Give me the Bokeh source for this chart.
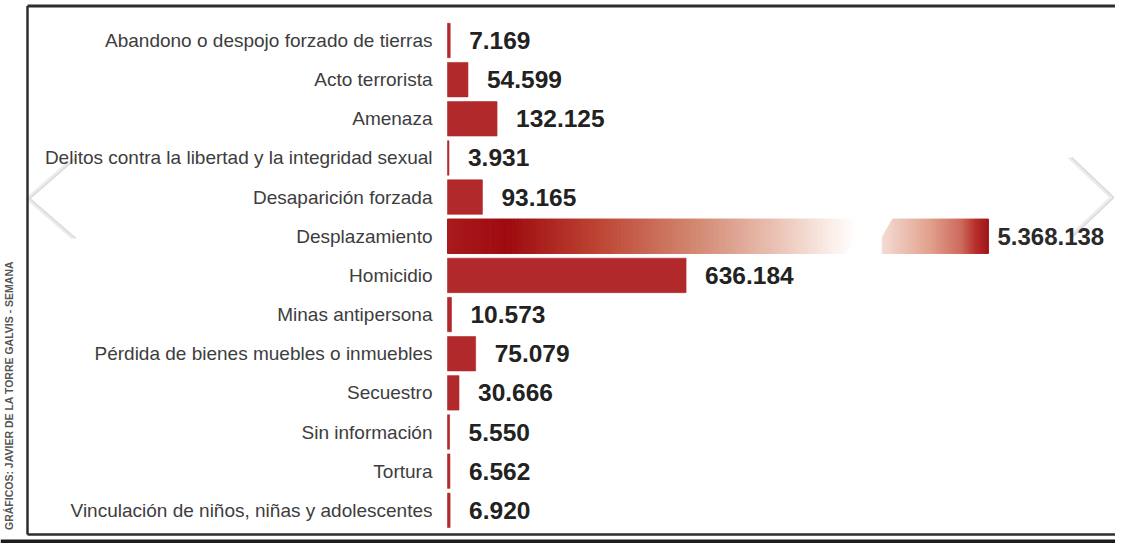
import math
from bokeh.plotting import figure
from bokeh.models import Range1d, ColumnDataSource
from bokeh.core.properties import value
from bokeh.embed import file_html
from bokeh.resources import INLINE

# ---------------- data ----------------
categories = [
    "Abandono o despojo forzado de tierras",
    "Acto terrorista",
    "Amenaza",
    "Delitos contra la libertad y la integridad sexual",
    "Desaparición forzada",
    "Desplazamiento",
    "Homicidio",
    "Minas antipersona",
    "Pérdida de bienes muebles o inmuebles",
    "Secuestro",
    "Sin información",
    "Tortura",
    "Vinculación de niños, niñas y adolescentes",
]
victims = [7169, 54599, 132125, 3931, 93165, 5368138, 636184,
           10573, 75079, 30666, 5550, 6562, 6920]
credit = "GRÁFICOS: JAVIER DE LA TORRE GALVIS - SEMANA"

# axis break used for the one very long bar (Desplazamiento)
BREAK_LO = 1_090_000
BREAK_HI = 5_085_000

# ---------------- layout / style ----------------
W, H = 1115, 543
K = 3.75e-4           # pixels per victim
X0 = 447              # pixel where value 0 sits
ROW0, ROWH = 40, 39.15
BAR_H = 0.88
GAP_PX, SLANT_PX = 26, 11
BAR_COLOR = "#b2292c"

x_start = -X0 / K
x_end = (W - X0) / K
gap_units = GAP_PX / K


def X(px):
    return x_start + px / K


def Y(py):
    return (py - ROW0) / ROWH


def shown(v):
    if v <= BREAK_LO:
        return v
    return BREAK_LO + gap_units + (v - BREAK_HI)


def fmt(v):
    return f"{v:,}".replace(",", ".")


def hex2rgb(h):
    h = h.lstrip("#")
    return tuple(int(h[i:i + 2], 16) for i in (0, 2, 4))


def grad(stops, t):
    for (t0, c0), (t1, c1) in zip(stops, stops[1:]):
        if t0 <= t <= t1:
            f = 0 if t1 == t0 else (t - t0) / (t1 - t0)
            a, b = hex2rgb(c0), hex2rgb(c1)
            return "#%02x%02x%02x" % tuple(round(a[j] + (b[j] - a[j]) * f) for j in range(3))
    return stops[-1][1]


LEFT_STOPS = [(0.0, "#a81a1c"), (0.15, "#9e0b10"), (0.36, "#bc4232"),
              (0.60, "#d2866f"), (0.80, "#e9c0b2"), (0.94, "#fbeee9"), (1.0, "#ffffff")]
RIGHT_STOPS = [(0.0, "#f4dcd3"), (0.45, "#e2a18e"), (0.75, "#cd6a5d"),
               (0.88, "#b8302e"), (1.0, "#a0161a")]

p = figure(width=W, height=H, output_backend="svg", toolbar_location=None,
           x_range=Range1d(x_start, x_end), y_range=Range1d(Y(H), Y(0)),
           min_border=0)
p.axis.visible = False
p.grid.visible = False
p.outline_line_color = None
p.background_fill_color = "white"
p.border_fill_color = "white"

# carousel chevrons (behind everything)
for dx, c in ((0, "#ececec"), (3, "#dddddd")):
    p.line([X(72 + dx), X(26 + dx), X(72 + dx)], [Y(158), Y(198), Y(238)],
           line_color=c, line_width=2)
    p.line([X(1068 + dx), X(1110 + dx), X(1068 + dx)], [Y(157), Y(197), Y(237)],
           line_color=c, line_width=2)

rows = list(range(len(categories)))
big = [i for i, v in enumerate(victims) if v > BREAK_LO]
normal = [i for i, v in enumerate(victims) if v <= BREAK_LO]

# normal bars
src = ColumnDataSource(dict(y=[rows[i] for i in normal],
                            right=[victims[i] for i in normal]))
p.hbar(y="y", left=0, right="right", height=BAR_H, source=src,
       fill_color=BAR_COLOR, line_color=BAR_COLOR, line_width=0.6)

# broken gradient bar(s)
N = 120
for i in big:
    v = victims[i]
    lefts, rights, cols = [], [], []
    for s in range(N):
        lefts.append(BREAK_LO * s / N)
        rights.append(BREAK_LO * (s + 1) / N)
        cols.append(grad(LEFT_STOPS, (s + 0.5) / N))
    r0, r1 = shown(BREAK_HI), shown(v)
    for s in range(N):
        lefts.append(r0 + (r1 - r0) * s / N)
        rights.append(r0 + (r1 - r0) * (s + 1) / N)
        cols.append(grad(RIGHT_STOPS, (s + 0.5) / N))
    p.hbar(y=[rows[i]] * len(lefts), left=lefts, right=rights, height=BAR_H,
           fill_color=cols, line_color=cols, line_width=1)
    sl = SLANT_PX / K
    top, bot = rows[i] - BAR_H / 2 - 0.05, rows[i] + BAR_H / 2 + 0.05
    p.patch([BREAK_LO - sl, r0 - sl, r0 + sl, BREAK_LO + sl],
            [bot, bot, top, top], fill_color="white", line_color=None)

# value labels
nsrc = ColumnDataSource(dict(x=[victims[i] for i in normal],
                             y=[rows[i] for i in normal],
                             t=[fmt(victims[i]) for i in normal]))
p.text(x="x", y="y", text="t", source=nsrc, x_offset=19,
       text_font=value("Liberation Sans"), text_font_style="bold",
       text_font_size="24.5px", text_color="#222222",
       text_align="left", text_baseline="middle")
for i in big:
    p.text(x=[shown(victims[i])], y=[rows[i]], text=[fmt(victims[i])], x_offset=9,
           text_font=value("Liberation Sans"), text_font_style="bold",
           text_font_size="24px", text_color="#2a2a2a",
           text_align="left", text_baseline="middle")

# category labels
p.text(x=[0] * len(rows), y=rows, text=categories, x_offset=-15,
       text_font=value("Liberation Sans"), text_font_size="19px",
       text_color="#3d3d3d", text_align="right", text_baseline="middle")

# frame decorations
dark = "#2e2e2e"
p.line([X(27), X(W)], [Y(5.5), Y(5.5)], line_color=dark, line_width=3)
p.line([X(27), X(27)], [Y(5.5), Y(534)], line_color=dark, line_width=2.5)
p.line([X(27), X(W)], [Y(534), Y(534)], line_color=dark, line_width=2.5)
p.quad(left=X(0), right=X(W), top=Y(539), bottom=Y(H + 2),
       fill_color="#1c1c1c", line_color=None)

# credit
p.text(x=[X(8)], y=[Y(395)], text=[credit], angle=math.pi / 2,
       text_font=value("Liberation Sans"), text_font_style="bold",
       text_font_size="10.5px", text_color="#555555",
       text_align="center", text_baseline="middle")

open("out.html", "w").write(file_html(p, INLINE))
